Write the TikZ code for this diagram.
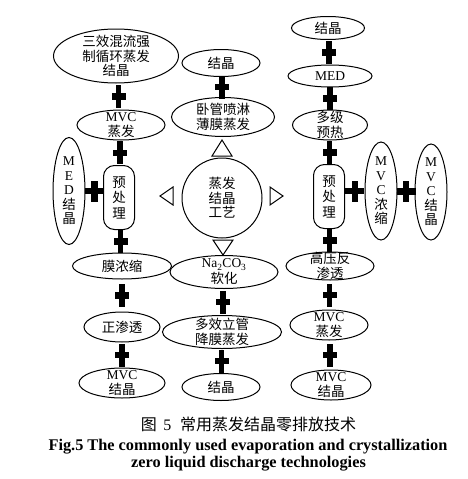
\documentclass[tikz,border=0pt]{standalone}
\usepackage{fontspec}
\setmainfont{Liberation Serif}
\newfontfamily\cjk{Noto Sans CJK SC}
\usetikzlibrary{shapes.geometric}
\tikzset{
 every node/.style={inner sep=0pt, outer sep=0pt, align=center, font=\fontsize{13.5}{14.5}\selectfont},
 zh/.style={font=\fontsize{13.5}{14.5}\selectfont\cjk},
 zhp/.style={font=\fontsize{13.5}{15.5}\selectfont\cjk},
 ell/.style={draw, ellipse, line width=1pt},
 pill/.style={draw, rectangle, rounded corners=11pt, line width=1pt, minimum width=31pt, minimum height=64pt},
 sz/.style 2 args={minimum width=#1pt, minimum height=#2pt},
 vbar/.style={fill=black, minimum width=5.5pt, minimum height=23pt},
 hbar/.style={fill=black, minimum width=14pt, minimum height=6.5pt},
 hbarH/.style={fill=black, minimum width=19pt, minimum height=6.5pt},
 vbarH/.style={fill=black, minimum width=6.5pt, minimum height=21pt},
 tri/.style={draw, line width=1pt, line join=miter},
 capzh/.style={font=\fontsize{16}{18}\selectfont},
 capen/.style={font=\fontsize{16.3}{18}\selectfont\bfseries},
}
\newcommand\myvplus[2]{\path (#1.south) -- (#2.north) node[midway,vbar] (pv#1#2) {} node[midway,hbar] (ph#1#2) {};}
\begin{document}
\begin{tikzpicture}[x=1pt,y=-1pt]
\useasboundingbox (0,0) rectangle (468,479);
\fill[white] (0,0) rectangle (468,479);
% left column
\node[ell, sz={125}{54}, label={[zh]center:{三效混流强\\制循环蒸发\\结晶}}] (L1) at (116,56) {};
\node[ell, sz={88}{30}, label={center:{MVC\\{\cjk 蒸发}}}] (L2) at (121,125) {};
\node[pill, label={[zhp]center:{预\\处\\理}}] (L3) at (119,197.5) {};
\node[ell, sz={32}{107}, label={center:{M\\E\\D\\{\cjk 结}\\{\cjk 晶}}}] (L4) at (69,191) {};
\node[ell, sz={99}{26}, label={[zh]center:{膜浓缩}}] (L5) at (122,266) {};
\node[ell, sz={76}{30}, label={[zh]center:{正渗透}}] (L6) at (122,327) {};
\node[ell, sz={86}{30}, label={center:{MVC\\{\cjk 结晶}}}] (L7) at (122,383) {};
% middle column
\node[ell, sz={78}{27}, label={[zh]center:{结晶}}] (M1) at (221,63) {};
\node[ell, sz={103}{39}, label={[zh]center:{卧管喷淋\\薄膜蒸发}}] (M2) at (223,117) {};
\node[draw, circle, line width=1pt, minimum size=80pt, label={[zh]center:{蒸发\\结晶\\工艺}}] (C) at (222,198) {};
\node[ell, sz={108}{33}, label={center:{Na\textsubscript{2}CO\textsubscript{3}\\[1.5pt]{\cjk 软化}}}] (M3) at (224,272) {};
\node[ell, sz={119}{33}, label={[zh]center:{多效立管\\降膜蒸发}}] (M4) at (222,332) {};
\node[ell, sz={78}{27}, label={[zh]center:{结晶}}] (M5) at (221,387) {};
% triangles
\draw[tri] (212,156) -- (232,156) -- (222,140) -- cycle;
\draw[tri] (213,240) -- (233,240) -- (223,255) -- cycle;
\draw[tri] (173,187) -- (173,205) -- (160,196) -- cycle;
\draw[tri] (270,187) -- (270,205) -- (283,196) -- cycle;
% right column
\node[ell, sz={73}{23}, label={[zh]center:{结晶}}] (R1) at (328,28) {};
\node[ell, sz={84}{22}, label={center:{MED}}] (R2) at (330,76) {};
\node[ell, sz={75}{30}, label={[zh]center:{多级\\预热}}] (R3) at (330,125) {};
\node[pill, label={[zhp]center:{预\\处\\理}}] (R4) at (329,196.5) {};
\node[ell, sz={32}{98}, label={center:{M\\V\\C\\{\cjk 浓}\\{\cjk 缩}}}] (R5) at (381,191) {};
\node[ell, sz={32}{96}, label={center:{M\\V\\C\\{\cjk 结}\\{\cjk 晶}}}] (R6) at (431,192) {};
\node[ell, sz={88}{28}, label={[zh]center:{高压反\\渗透}}] (R7) at (330,266) {};
\node[ell, sz={78}{30}, label={center:{MVC\\{\cjk 蒸发}}}] (R8) at (329,325) {};
\node[ell, sz={80}{30}, label={center:{MVC\\{\cjk 结晶}}}] (R9) at (331,385) {};
% vertical plus connectors
\myvplus{L1}{L2}
\myvplus{L2}{L3}
\myvplus{L3}{L5}
\myvplus{L5}{L6}
\myvplus{L6}{L7}
\myvplus{M1}{M2}
\myvplus{M3}{M4}
\myvplus{M4}{M5}
\myvplus{R1}{R2}
\myvplus{R2}{R3}
\myvplus{R3}{R4}
\myvplus{R4}{R7}
\myvplus{R7}{R8}
\myvplus{R8}{R9}
% horizontal plus connectors
\path (L4.east) -- (L4.east -| L3.west) node[midway,hbarH] (phL4L3) {} node[midway,vbarH] (pvL4L3) {};
\path (R4.east |- R5.west) -- (R5.west) node[midway,hbarH] (phR4R5) {} node[midway,vbarH] (pvR4R5) {};
\path (R5.east) -- (R6.west) node[midway,hbarH] (phR5R6) {} node[midway,vbarH] (pvR5R6) {};
% captions
\node[capzh] (cap1) at (248.5,424) {{\cjk 图}\hspace{0.4em}5\hspace{0.55em}{\cjk 常用蒸发结晶零排放技术}};
\node[capen] (cap2) at (248,447) {Fig.5 The commonly used evaporation and crystallization};
\node[capen] (cap3) at (248.5,464) {zero liquid discharge technologies};
\end{tikzpicture}
\end{document}
